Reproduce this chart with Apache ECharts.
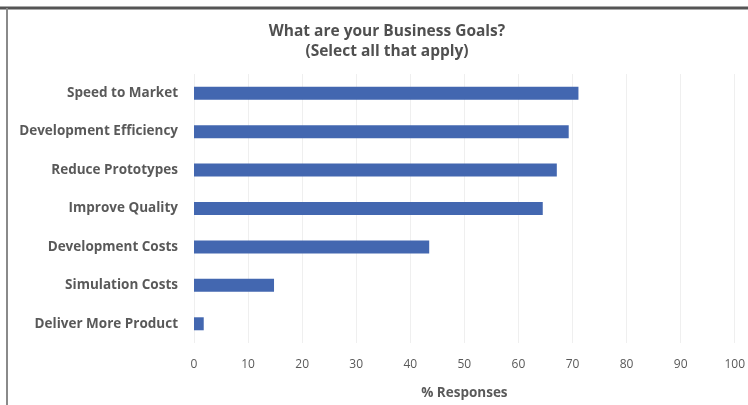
<!DOCTYPE html>
<html>
<head>
<meta charset="utf-8">
<script src="https://cdn.jsdelivr.net/npm/echarts@6/dist/echarts.min.js"></script>
<style>
    html, body { margin: 0; padding: 0; background: #fff; }
    #chart { width: 748px; height: 405px; }
</style>
</head>
<body>
<div id="chart"></div>
<script>
// 类目（自下而上）
var categories = ['Deliver More Product', 'Simulation Costs', 'Development Costs', 'Improve Quality',
    'Reduce Prototypes', 'Development Efficiency', 'Speed to Market'];
// 百分比
var values = [1.8, 14.8, 43.5, 64.5, 67.1, 69.3, 71.1];
var tickLabels = [0, 10, 20, 30, 40, 50, 60, 70, 80, 90, 100];

var textColor = '#595959';
var fontName = '"Open Sans", "Noto Sans", sans-serif';

var myChart = echarts.init(document.getElementById('chart'));

var option = {
    animation: false,
    backgroundColor: '#ffffff',
    title: {
        text: 'What are your Business Goals?\n(Select all that apply)',
        left: 382,
        textAlign: 'center',
        top: 17,
        textStyle: {
            color: '#505050',
            fontSize: 15.5,
            fontWeight: 'bold',
            fontFamily: fontName,
            lineHeight: 20
        }
    },
    graphic: [
        { type: 'line', shape: { x1: 0, y1: 8, x2: 748, y2: 8 }, style: { stroke: '#555', lineWidth: 3 } },
        { type: 'line', shape: { x1: 7, y1: 8, x2: 7, y2: 405 }, style: { stroke: '#8a8a8a', lineWidth: 2 } }
    ],
    grid: {
        left: 194,
        right: 7,
        top: 74,
        bottom: 59
    },
    xAxis: {
        type: 'value',
        min: 0,
        max: 100,
        interval: 10,
        name: '% Responses',
        nameLocation: 'middle',
        nameGap: 43,
        nameTextStyle: { color: textColor, fontSize: 13.5, fontWeight: 'bold', fontFamily: fontName },
        axisLine: { show: false },
        axisTick: { show: false },
        axisLabel: {
            color: textColor, fontSize: 12, fontFamily: fontName, margin: 16,
            formatter: function (v) { return tickLabels.indexOf(v) >= 0 ? String(v) : ''; }
        },
        splitLine: { show: true, lineStyle: { color: '#efefef', width: 1 } }
    },
    yAxis: {
        type: 'category',
        data: categories,
        axisLine: { show: false },
        axisTick: { show: false },
        axisLabel: { color: textColor, fontSize: 13.5, fontWeight: 'bold', fontFamily: fontName, margin: 16 }
    },
    series: [{
        type: 'bar',
        data: values,
        barWidth: 13,
        itemStyle: { color: '#4367b0' }
    }]
};
myChart.setOption(option);
</script>
</body>
</html>
